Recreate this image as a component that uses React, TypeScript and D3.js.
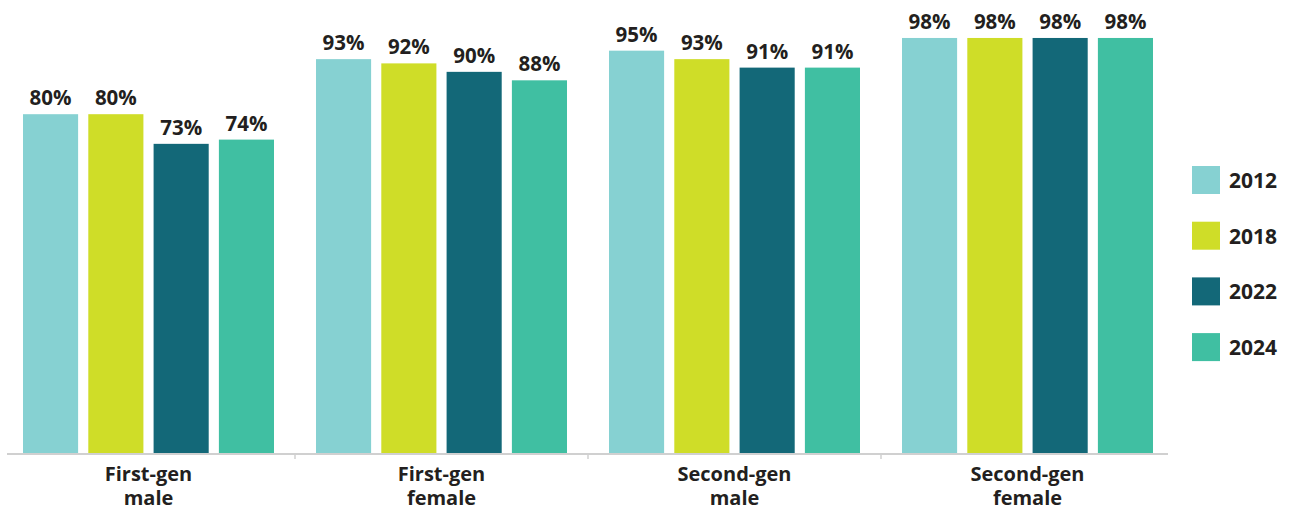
import React from "react";
import * as d3 from "d3";

const categories = [["First-gen", "male"], ["First-gen", "female"], ["Second-gen", "male"], ["Second-gen", "female"]];
const years = ["2012", "2018", "2022", "2024"];
const v2012 = [80, 93, 95, 98];
const v2018 = [80, 92, 93, 98];
const v2022 = [73, 90, 91, 98];
const v2024 = [74, 88, 91, 98];
const colors = ["#86d1d2", "#cfdd28", "#136878", "#40bfa2"];

const W = 1295, H = 511;
const FONT = "'Open Sans', 'Noto Sans', sans-serif";
const TXT = "#231f20";

export default function App() {
  const series = [v2012, v2018, v2022, v2024];
  const keys = categories.map((c) => c.join(" "));
  const x0 = d3.scaleBand().domain(keys).range([2, 1174]).paddingInner(0).paddingOuter(0);
  const x1 = d3.scaleBand().domain(years).range([21, 272]).paddingInner(0.156).paddingOuter(0);
  const y = d3.scaleLinear().domain([0, 100]).range([453, 29.5]);
  const base = y(0);

  return (
    <svg width={W} height={H} style={{ position: "absolute", left: 0, top: 0, background: "#fff" }} fontFamily={FONT}>
      {keys.map((k, gi) => (
        <g key={k} transform={`translate(${x0(k)},0)`}>
          {years.map((yr, si) => {
            const v = series[si][gi];
            const bx = x1(yr)!;
            const bw = x1.bandwidth();
            return (
              <g key={yr}>
                <rect x={bx} y={y(v)} width={bw} height={base - y(v)} fill={colors[si]} />
                <text x={bx + bw / 2} y={y(v) - 9} textAnchor="middle" fontSize={20.5} fontWeight={700} fill={TXT}>
                  {v}%
                </text>
              </g>
            );
          })}
          <text x={x0.bandwidth() / 2} y={481} textAnchor="middle" fontSize={20} fontWeight={700} fill={TXT}>
            <tspan x={x0.bandwidth() / 2}>{categories[gi][0]}</tspan>
            <tspan x={x0.bandwidth() / 2} dy={24}>{categories[gi][1]}</tspan>
          </text>
        </g>
      ))}
      <line x1={7} x2={1168} y1={base + 1} y2={base + 1} stroke="#d0d0d0" strokeWidth={2} />
      {keys.slice(1).map((k) => (
        <line key={k} x1={x0(k)!} x2={x0(k)!} y1={base} y2={base + 6} stroke="#d0d0d0" strokeWidth={1.5} />
      ))}
      {years.map((yr, i) => (
        <g key={yr} transform={`translate(1192,${166 + i * 55.7})`}>
          <rect x={0} y={0} width={28} height={28} fill={colors[i]} />
          <text x={37} y={22} fontSize={21} fontWeight={700} fill={TXT}>{yr}</text>
        </g>
      ))}
    </svg>
  );
}
